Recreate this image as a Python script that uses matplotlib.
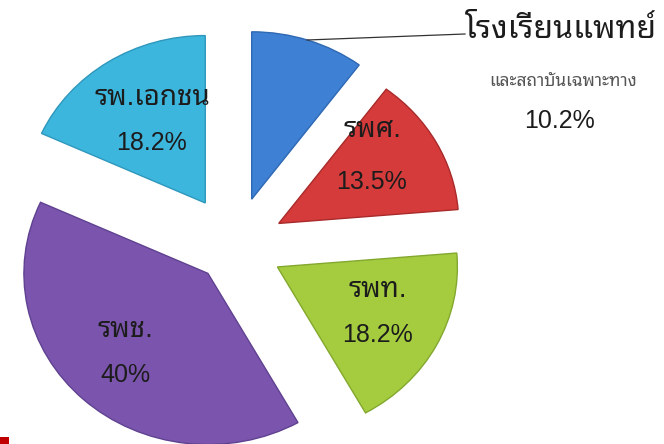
import matplotlib
matplotlib.use("Agg")
import matplotlib.pyplot as plt
from matplotlib import font_manager

# data, clockwise from 12 o'clock
names = ["โรงเรียนแพทย์", "รพศ.", "รพท.", "รพช.", "รพ.เอกชน"]
shares = [10.2, 13.5, 18.2, 40.0, 18.2]
pct_text = ["10.2%", "13.5%", "18.2%", "40%", "18.2%"]
sub_note = "และสถาบันเฉพาะทาง"

colors = ["#3d80d4", "#d63b3b", "#a4cc3e", "#7b55ad", "#3db6de"]
edges = ["#2f68b3", "#a82a2a", "#83a82f", "#5f4190", "#2e97bb"]
# explode distance in pixels (the chart is drawn in pixel units)
gap = [53, 50, 48, 40, 55]

have = {f.name for f in font_manager.fontManager.ttflist}
thai = "DejaVu Sans"
for cand in ["Noto Sans Thai Looped", "Sarabun", "Noto Sans Thai", "Anuphan", "Athiti"]:
    if cand in have:
        thai = cand
        break
fam = ["Liberation Sans", thai, "DejaVu Sans"]

sy = 0.93  # the picture is a little squashed vertically
H = 444 / sy

fig = plt.figure(figsize=(6.64, 4.44), dpi=100)
ax = fig.add_axes([0, 0, 1, 1])

wedges, _ = ax.pie(shares, explode=gap, colors=colors, startangle=90,
                   counterclock=False, radius=180, center=(235, H - 246 / sy),
                   wedgeprops=dict(linewidth=1.0))
for w, e in zip(wedges, edges):
    w.set_edgecolor(e)
wedges[3].set_radius(184)

ax.set_aspect("auto")
ax.set_xlim(0, 664)
ax.set_ylim(0, H)
ax.axis("off")


def py(y):
    # pixel row (from top) to data y
    return H - y / sy


txt = "#1c1c1c"
# labels inside the wedges (pixel positions, y from top)
inside = {1: (372, 130, 182), 2: (378, 290, 335), 3: (125, 330, 375), 4: (152, 98, 143)}
for i, (x, y1, y2) in inside.items():
    ax.text(x, py(y1), names[i], ha="center", va="center", fontsize=20,
            family=fam, color=txt)
    ax.text(x, py(y2), pct_text[i], ha="center", va="center", fontsize=18,
            family=fam, color=txt)

# the first slice is labelled outside with a leader line
ax.plot([307, 465], [py(40), py(34)], color="#333333", lw=0.9)
ax.text(561, py(30), names[0], ha="center", va="center", fontsize=23,
        family=fam, color=txt)
ax.text(563, py(81), sub_note, ha="center", va="center", fontsize=12.5,
        family=fam, color="#555555")
ax.text(560, py(121), pct_text[0], ha="center", va="center", fontsize=18,
        family=fam, color=txt)

# small red mark in the bottom left corner
ax.add_patch(plt.Rectangle((0, 0), 9, 7 / sy, color="#c00000", lw=0))

fig.savefig("out.png", dpi=100)
